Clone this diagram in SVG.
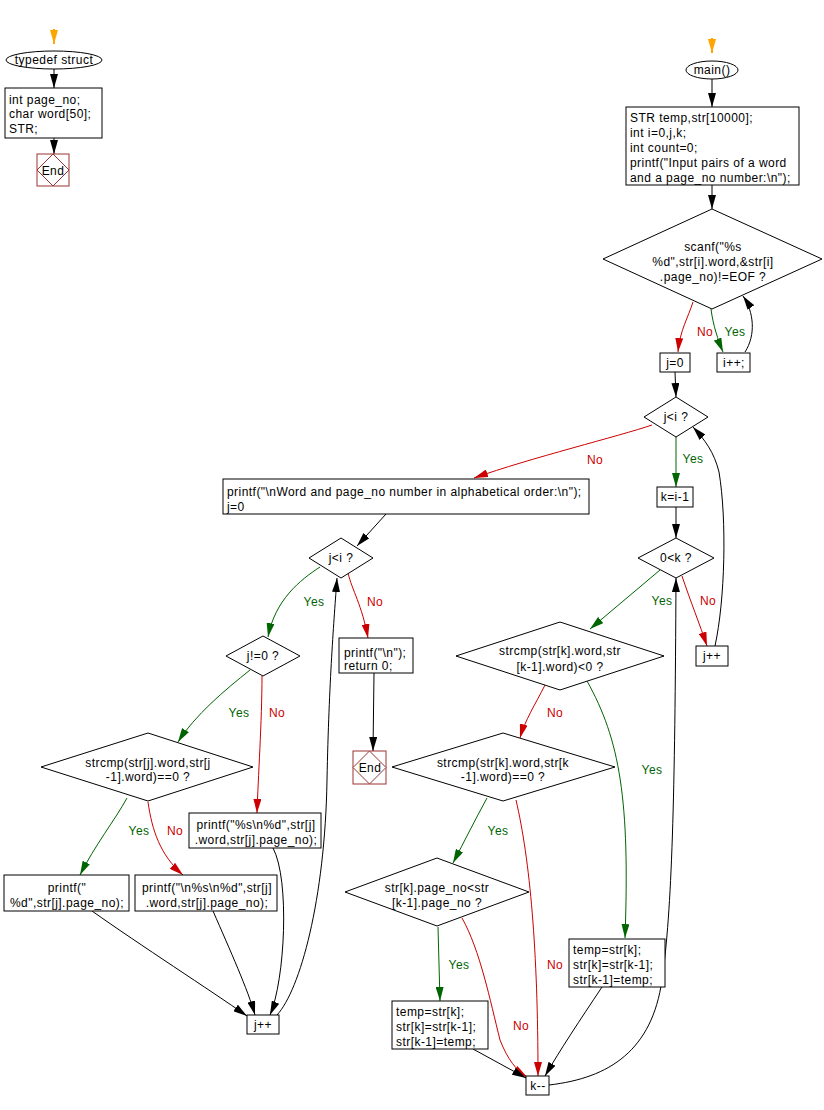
<svg xmlns="http://www.w3.org/2000/svg" width="824" height="1110" viewBox="0 0 824 1110">
<style>
  text { font-family: "Liberation Sans", Arial, sans-serif; font-size: 12px; letter-spacing: 0.45px; fill: #000; }
  .mid { text-anchor: middle; }
  .box { fill: #fff; stroke: #000; stroke-width: 1; }
  .end { fill: #fff; stroke: #993333; stroke-width: 1; }
  .e { fill: none; stroke: #000; stroke-width: 1; }
  .er { fill: none; stroke: #cc0000; stroke-width: 1; }
  .eg { fill: none; stroke: #006400; stroke-width: 1; }
  .eo { fill: none; stroke: #ffa500; stroke-width: 2; }
  .ly { fill: #006400; text-anchor: middle; }
  .ln { fill: #cc0000; text-anchor: middle; }
</style>
<defs>
  <marker id="ab" viewBox="0 0 14 8" refX="14" refY="4" markerWidth="14" markerHeight="8" markerUnits="userSpaceOnUse" orient="auto"><path d="M0,0 L14,4 L0,8 z" fill="#000"/></marker>
  <marker id="ar" viewBox="0 0 14 8" refX="14" refY="4" markerWidth="14" markerHeight="8" markerUnits="userSpaceOnUse" orient="auto"><path d="M0,0 L14,4 L0,8 z" fill="#cc0000"/></marker>
  <marker id="ag" viewBox="0 0 14 8" refX="14" refY="4" markerWidth="14" markerHeight="8" markerUnits="userSpaceOnUse" orient="auto"><path d="M0,0 L14,4 L0,8 z" fill="#006400"/></marker>
  <marker id="ao" viewBox="0 0 14 8" refX="14" refY="4" markerWidth="14" markerHeight="8" markerUnits="userSpaceOnUse" orient="auto"><path d="M0,0 L14,4 L0,8 z" fill="#ffa500"/></marker>
</defs>
<rect width="824" height="1110" fill="#fff"/>

<g id="connectors">
  <path class="eo" d="M54,29 L54,44" marker-end="url(#ao)"/>
  <path class="e" d="M54,69 L54,88" marker-end="url(#ab)"/>
  <path class="e" d="M54,138 L54,154" marker-end="url(#ab)"/>

  <path class="eo" d="M712,38 L712,53" marker-end="url(#ao)"/>
  <path class="e" d="M712,79 L712,107" marker-end="url(#ab)"/>
  <path class="e" d="M712,185 L712,209" marker-end="url(#ab)"/>
  <path class="er" d="M693,302 C688,318 680,330 678,352" marker-end="url(#ar)"/>
  <path class="eg" d="M711,309 C713,325 718,340 723,352" marker-end="url(#ag)"/>
  <path class="e" d="M745,352 C756,335 754,312 743,296" marker-end="url(#ab)"/>
  <path class="e" d="M675,372 L676,397" marker-end="url(#ab)"/>
  <path class="er" d="M652,425 C620,436 530,458 474,478" marker-end="url(#ar)"/>
  <path class="eg" d="M676,437 L676,487" marker-end="url(#ag)"/>
  <path class="e" d="M676,507 L676,538" marker-end="url(#ab)"/>

  <path class="e" d="M386,514 L357,546" marker-end="url(#ab)"/>
  <path class="eg" d="M320,567 C300,580 275,600 268,637" marker-end="url(#ag)"/>
  <path class="er" d="M348,573 C352,590 362,605 368,638" marker-end="url(#ar)"/>
  <path class="e" d="M374,673 L373,751" marker-end="url(#ab)"/>
  <path class="eg" d="M250,670 C225,690 195,715 178,742" marker-end="url(#ag)"/>
  <path class="er" d="M262,676 C262,720 258,780 257,813" marker-end="url(#ar)"/>
  <path class="eg" d="M127,798 C115,820 95,845 80,875" marker-end="url(#ag)"/>
  <path class="er" d="M148,802 C152,830 160,855 183,875" marker-end="url(#ar)"/>
  <path class="e" d="M92,911 C140,945 210,990 247,1016" marker-end="url(#ab)"/>
  <path class="e" d="M213,911 C230,950 248,990 255,1015" marker-end="url(#ab)"/>
  <path class="e" d="M273,848 C290,880 285,980 270,1015" marker-end="url(#ab)"/>
  <path class="e" d="M277,1015 C300,990 325,900 327,780 C329,680 334,620 337,578" marker-end="url(#ab)"/>

  <path class="eg" d="M660,570 L590,629" marker-end="url(#ag)"/>
  <path class="er" d="M682,576 C690,600 700,625 707,646" marker-end="url(#ar)"/>
  <path class="e" d="M715,646 C725,600 727,520 719,472 C714,452 705,440 693,427" marker-end="url(#ab)"/>
  <path class="er" d="M545,685 C535,705 525,720 520,738" marker-end="url(#ar)"/>
  <path class="eg" d="M587,681 C620,740 630,800 625,938" marker-end="url(#ag)"/>
  <path class="eg" d="M487,798 C475,820 465,840 453,863" marker-end="url(#ag)"/>
  <path class="er" d="M516,800 C530,860 538,950 538,1076" marker-end="url(#ar)"/>
  <path class="eg" d="M438,927 L440,1001" marker-end="url(#ag)"/>
  <path class="er" d="M462,918 C480,950 490,1000 500,1040 C508,1060 516,1070 527,1077" marker-end="url(#ar)"/>
  <path class="e" d="M473,1049 L526,1078" marker-end="url(#ab)"/>
  <path class="e" d="M602,987 C580,1020 560,1050 545,1076" marker-end="url(#ab)"/>
  <path class="e" d="M549,1085 C610,1078 652,1050 662,980 C672,910 675,800 676,578" marker-end="url(#ab)"/>

  <text class="ln" x="705" y="336">No</text>
  <text class="ly" x="735" y="336">Yes</text>
  <text class="ln" x="595" y="464">No</text>
  <text class="ly" x="693" y="463">Yes</text>
  <text class="ly" x="314" y="606">Yes</text>
  <text class="ln" x="375" y="606">No</text>
  <text class="ly" x="239" y="717">Yes</text>
  <text class="ln" x="277" y="717">No</text>
  <text class="ly" x="139" y="835">Yes</text>
  <text class="ln" x="175" y="835">No</text>
  <text class="ly" x="662" y="605">Yes</text>
  <text class="ln" x="708" y="605">No</text>
  <text class="ln" x="555" y="717">No</text>
  <text class="ly" x="652" y="774">Yes</text>
  <text class="ly" x="498" y="835">Yes</text>
  <text class="ln" x="555" y="969">No</text>
  <text class="ly" x="459" y="969">Yes</text>
  <text class="ln" x="521" y="1030">No</text>
</g>

<g id="typedef">
  <ellipse class="box" cx="54" cy="60" rx="48" ry="9"/>
  <text class="mid" x="54" y="64">typedef struct</text>
</g>
<g id="struct-body">
  <rect class="box" x="5" y="88" width="97" height="50"/>
  <text x="9" y="104">int page_no;</text>
  <text x="9" y="118">char word[50];</text>
  <text x="9" y="133">STR;</text>
</g>
<g id="end1">
  <rect class="end" x="37" y="154" width="32" height="32"/>
  <path class="end" d="M53,154 L69,170 L53,186 L37,170 z"/>
  <text class="mid" x="53" y="175">End</text>
</g>

<g id="main">
  <ellipse class="box" cx="712" cy="70" rx="26" ry="9"/>
  <text class="mid" x="712" y="74">main()</text>
</g>
<g id="decl">
  <rect class="box" x="626" y="107" width="173" height="78"/>
  <text x="630" y="122">STR temp,str[10000];</text>
  <text x="630" y="137">int i=0,j,k;</text>
  <text x="630" y="152">int count=0;</text>
  <text x="630" y="167">printf("Input pairs of a word</text>
  <text x="630" y="182">and a page_no number:\n");</text>
</g>
<g id="scanf">
  <path class="box" d="M712,209 L822,259 L712,309 L603,259 z"/>
  <text class="mid" x="713" y="251">scanf("%s</text>
  <text class="mid" x="713" y="266">%d",str[i].word,&amp;str[i]</text>
  <text class="mid" x="713" y="281">.page_no)!=EOF ?</text>
</g>
<g id="j0">
  <rect class="box" x="660" y="353" width="30" height="19"/>
  <text class="mid" x="675" y="367">j=0</text>
</g>
<g id="iinc">
  <rect class="box" x="717" y="353" width="33" height="19"/>
  <text class="mid" x="734" y="367">i++;</text>
</g>
<g id="jlti1">
  <path class="box" d="M676,397 L708,417 L676,437 L644,417 z"/>
  <text class="mid" x="676" y="421">j&lt;i ?</text>
</g>
<g id="kset">
  <rect class="box" x="657" y="487" width="36" height="20"/>
  <text class="mid" x="675" y="501">k=i-1</text>
</g>
<g id="kgt0">
  <path class="box" d="M676,538 L714,558 L676,578 L638,558 z"/>
  <text class="mid" x="676" y="562">0&lt;k ?</text>
</g>
<g id="jinc2">
  <rect class="box" x="696" y="646" width="32" height="20"/>
  <text class="mid" x="712" y="660">j++</text>
</g>
<g id="cmplt">
  <path class="box" d="M560,622 L664,656 L560,690 L456,656 z"/>
  <text class="mid" x="560" y="655">strcmp(str[k].word,str</text>
  <text class="mid" x="560" y="671">[k-1].word)&lt;0 ?</text>
</g>
<g id="cmpeq-k">
  <path class="box" d="M503,733 L615,767 L503,801 L392,767 z"/>
  <text class="mid" x="503" y="767">strcmp(str[k].word,str[k</text>
  <text class="mid" x="503" y="781">-1].word)==0 ?</text>
</g>
<g id="pagecmp">
  <path class="box" d="M437,858 L529,892 L437,926 L345,892 z"/>
  <text class="mid" x="437" y="892">str[k].page_no&lt;str</text>
  <text class="mid" x="437" y="907">[k-1].page_no ?</text>
</g>
<g id="swap1">
  <rect class="box" x="392" y="1001" width="96" height="48"/>
  <text x="396" y="1016">temp=str[k];</text>
  <text x="396" y="1031">str[k]=str[k-1];</text>
  <text x="396" y="1046">str[k-1]=temp;</text>
</g>
<g id="swap2">
  <rect class="box" x="569" y="939" width="96" height="48"/>
  <text x="573" y="954">temp=str[k];</text>
  <text x="573" y="969">str[k]=str[k-1];</text>
  <text x="573" y="984">str[k-1]=temp;</text>
</g>
<g id="kdec">
  <rect class="box" x="526" y="1076" width="23" height="19"/>
  <text class="mid" x="538" y="1090">k--</text>
</g>

<g id="printorder">
  <rect class="box" x="223" y="479" width="366" height="35"/>
  <text x="227" y="496">printf("\nWord and page_no number in alphabetical order:\n");</text>
  <text x="227" y="511">j=0</text>
</g>
<g id="jlti2">
  <path class="box" d="M341,538 L373,558 L341,578 L309,558 z"/>
  <text class="mid" x="341" y="562">j&lt;i ?</text>
</g>
<g id="printnl">
  <rect class="box" x="339" y="638" width="74" height="35"/>
  <text x="344" y="657">printf("\n");</text>
  <text x="344" y="670">return 0;</text>
</g>
<g id="end2">
  <rect class="end" x="353" y="751" width="33" height="33"/>
  <path class="end" d="M369.5,751 L386,767.5 L369.5,784 L353,767.5 z"/>
  <text class="mid" x="370" y="772">End</text>
</g>
<g id="jne0">
  <path class="box" d="M263,636 L300,656 L263,676 L226,656 z"/>
  <text class="mid" x="263" y="660">j!=0 ?</text>
</g>
<g id="cmpeq-j">
  <path class="box" d="M148,733 L253,767 L148,801 L41,767 z"/>
  <text class="mid" x="148" y="767">strcmp(str[j].word,str[j</text>
  <text class="mid" x="148" y="781">-1].word)==0 ?</text>
</g>
<g id="printpage">
  <rect class="box" x="4" y="875" width="125" height="36"/>
  <text class="mid" x="67" y="892">printf("</text>
  <text class="mid" x="67" y="907">%d",str[j].page_no);</text>
</g>
<g id="printnlword">
  <rect class="box" x="135" y="875" width="142" height="36"/>
  <text class="mid" x="207" y="892">printf("\n%s\n%d",str[j]</text>
  <text class="mid" x="207" y="907">.word,str[j].page_no);</text>
</g>
<g id="printword">
  <rect class="box" x="189" y="813" width="132" height="35"/>
  <text class="mid" x="256" y="829">printf("%s\n%d",str[j]</text>
  <text class="mid" x="256" y="844">.word,str[j].page_no);</text>
</g>
<g id="jinc1">
  <rect class="box" x="247" y="1015" width="32" height="19"/>
  <text class="mid" x="263" y="1029">j++</text>
</g>
</svg>
